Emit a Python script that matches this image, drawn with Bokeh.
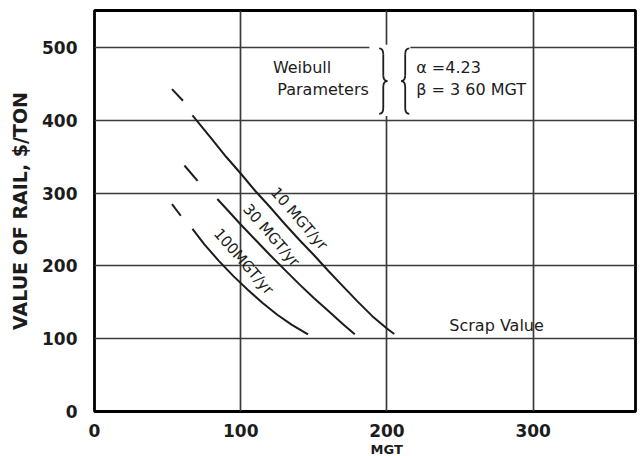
from bokeh.plotting import figure
from bokeh.models import FixedTicker, Title
from bokeh.core.properties import value
from bokeh.embed import file_html
from bokeh.resources import INLINE

# Value of rail ($/ton) against cumulative tonnage (MGT) for three traffic densities
mgt_10 = [67, 80, 90, 100, 110, 120, 130, 140, 150, 160, 170, 180, 190, 200, 205]
val_10 = [407, 375, 350, 327, 303, 281, 258, 236, 215, 193, 172, 151, 131, 114, 106.5]

mgt_30 = [84, 90, 100, 110, 120, 130, 140, 150, 160, 170, 178]
val_30 = [292, 279, 257, 236, 215, 195, 175, 156, 138, 120, 106]

mgt_100 = [67, 75, 85, 95, 105, 115, 125, 135, 146]
val_100 = [251, 230, 207, 186, 167, 149, 133, 119, 106]

# short extrapolated strokes ahead of each curve (10, 30, 100 MGT/yr)
lead_x0 = [53, 61.5, 53]
lead_y0 = [443, 338, 285]
lead_x1 = [60.5, 70.5, 59]
lead_y1 = [427, 317, 269]

curve_labels = ["10 MGT/yr", "30 MGT/yr", "100MGT/yr"]
curve_label_x = [140, 121, 102]
curve_label_y = [265, 242, 206]

x_ticks = [0, 100, 200, 300]
y_ticks = [0, 100, 200, 300, 400, 500]

INK = "#1c1c1c"
GRID = "#3a3a3a"
LETTER = value("DejaVu Sans")

p = figure(width=642, height=456, output_backend="svg", toolbar_location=None,
           x_range=(0, 370), y_range=(0, 551),
           min_border_left=94, min_border_right=7, min_border_top=10, min_border_bottom=45)

p.outline_line_color = "black"
p.outline_line_width = 2.8
p.background_fill_color = "white"
p.border_fill_color = "white"

for ax in (p.xaxis, p.yaxis):
    ax.axis_line_color = None
    ax.major_tick_line_color = None
    ax.minor_tick_line_color = None
    ax.major_label_text_font = "DejaVu Sans"
    ax.major_label_text_font_style = "bold"
    ax.major_label_text_font_size = "17px"
    ax.major_label_text_color = INK
p.yaxis.major_label_standoff = 11
p.xaxis.major_label_standoff = 6

p.xaxis.ticker = FixedTicker(ticks=x_ticks)
p.yaxis.ticker = FixedTicker(ticks=y_ticks)

p.yaxis.axis_label = "VALUE OF RAIL, $/TON"
p.yaxis.axis_label_text_font = "DejaVu Sans"
p.yaxis.axis_label_text_font_style = "bold"
p.yaxis.axis_label_text_font_size = "19px"
p.yaxis.axis_label_text_color = INK
p.yaxis.axis_label_standoff = 8

p.add_layout(Title(text="MGT", align="left", offset=276, standoff=0,
                   text_font="DejaVu Sans", text_font_style="bold",
                   text_font_size="13px", text_color=INK), "below")

p.xgrid.ticker = FixedTicker(ticks=x_ticks[1:])
p.ygrid.ticker = FixedTicker(ticks=y_ticks[1:])
for g in (p.xgrid, p.ygrid):
    g.grid_line_color = GRID
    g.grid_line_width = 1.7

# white patch behind the Weibull brackets, breaking the grid there
p.quad(left=[188], right=[216], bottom=[406], top=[504],
       fill_color="white", line_color=None)

# curves
for xs, ys in ((mgt_10, val_10), (mgt_30, val_30), (mgt_100, val_100)):
    p.line(xs, ys, line_color=INK, line_width=2, line_join="round")

p.segment(x0=lead_x0, y0=lead_y0, x1=lead_x1, y1=lead_y1,
          line_color=INK, line_width=2)

p.text(x=curve_label_x, y=curve_label_y, text=curve_labels, angle=-49, angle_units="deg",
       text_font=LETTER, text_font_size="15px", text_color=INK,
       text_align="center", text_baseline="middle")

# Weibull parameter note
p.text(x=[122, 125], y=[472, 443], text=["Weibull", "Parameters"],
       text_font=LETTER, text_font_size="16px", text_color=INK,
       text_align="left", text_baseline="middle")
p.text(x=[220, 220], y=[472, 443], text=["\u03b1 =4.23", "\u03b2 = 3 60 MGT"],
       text_font=LETTER, text_font_size="16px", text_color=INK,
       text_align="left", text_baseline="middle")


def brace(xs, ytop, ybot, w, h):
    """Curly bracket with its spine at xs; w > 0 points the tip right."""
    ym = (ytop + ybot) / 2
    p.quadratic(x0=[xs - w, xs, xs + w, xs], y0=[ytop, ym + h, ym, ybot + h],
                x1=[xs, xs + w, xs, xs - w], y1=[ytop - h, ym, ym - h, ybot],
                cx=[xs, xs, xs, xs], cy=[ytop, ym, ym, ybot],
                line_color=INK, line_width=1.8)
    p.segment(x0=[xs, xs], y0=[ytop - h, ym - h], x1=[xs, xs], y1=[ym + h, ybot + h],
              line_color=INK, line_width=1.8)


brace(197.5, 499, 409, 2.8, 8)
brace(212.5, 499, 409, -2.8, 8)

p.text(x=[275], y=[118], text=["Scrap Value"],
       text_font=LETTER, text_font_size="16px", text_color=INK,
       text_align="center", text_baseline="middle")

open("out.html", "w").write(file_html(p, INLINE))
